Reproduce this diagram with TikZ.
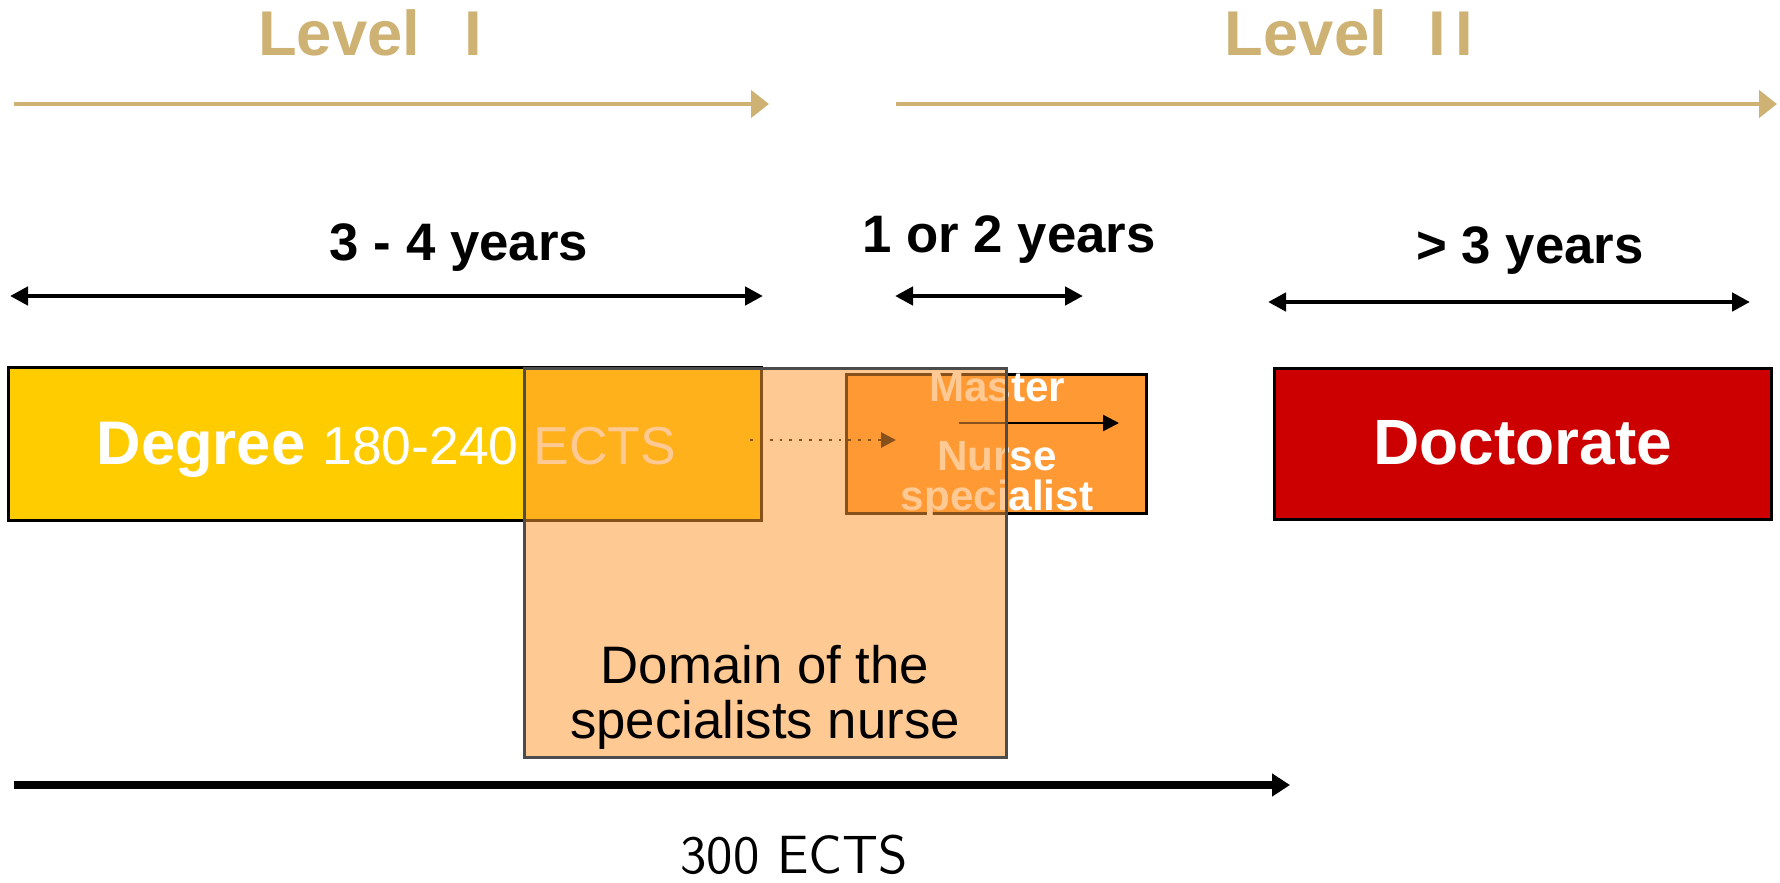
\documentclass[tikz,border=0pt]{standalone}
\usepackage{fontspec}
\setmainfont{Liberation Sans}
\usetikzlibrary{arrows.meta}
\definecolor{levelgold}{RGB}{205,178,116}
\definecolor{degreeyellow}{RGB}{255,204,0}
\definecolor{masterorange}{RGB}{255,153,51}
\definecolor{doctoratered}{RGB}{204,0,0}

\begin{document}
\begin{tikzpicture}[x=0.01cm, y=-0.01cm,
  levelarrow/.style={levelgold, line width=1.4pt, -{Triangle[length=0.18cm, width=0.27cm]}},
  yearspan/.style={line width=1.4pt, {Triangle[length=0.18cm, width=0.18cm]}-{Triangle[length=0.18cm, width=0.18cm]}},
  leveltext/.style={levelgold, anchor=base, inner sep=0pt, font=\fontsize{18}{20}\selectfont\bfseries},
  yearstext/.style={anchor=base, inner sep=0pt, font=\fontsize{15}{17}\selectfont\bfseries},
  stagebox/.style={draw, line width=0.85pt, inner sep=0pt},
  boxtext/.style={white, anchor=base, inner sep=0pt},
]
\useasboundingbox (0,0) rectangle (1780,882);

% levels
\node[leveltext] (levelI) at (370,56) {Level\hspace{0.44cm}I};
\node[leveltext] (levelII) at (1349,56) {Level\hspace{0.42cm}I\kern0.09cm I};
\coordinate (levelIstart) at (14,104);
\coordinate (levelIend) at (769,104);
\coordinate (levelIIstart) at (896,104);
\coordinate (levelIIend) at (1777,104);
\draw[levelarrow] (levelIstart) -- (levelIend);
\draw[levelarrow] (levelIIstart) -- (levelIIend);

% durations
\node[yearstext] (degreeyears) at (459,260) {3 - 4 years};
\node[yearstext] (masteryears) at (1009,252) {1 or 2 years};
\node[yearstext] (doctorateyears) at (1530,263) {> 3 years};
\coordinate (degreeleft) at (10,296);
\coordinate (degreeright) at (763,296);
\coordinate (masterleft) at (895,296);
\coordinate (masterright) at (1083,296);
\coordinate (doctorateleft) at (1268,302);
\coordinate (doctorateright) at (1750,302);
\draw[yearspan] (degreeleft) -- (degreeright);
\draw[yearspan] (masterleft) -- (masterright);
\draw[yearspan] (doctorateleft) -- (doctorateright);

% stages
\node[stagebox, fill=degreeyellow, minimum width=7.52cm, minimum height=1.52cm] (degree) at (385,444) {};
\node[boxtext, anchor=base west] (degreetext) at (96,464)
{\fontsize{17.5}{20}\selectfont\bfseries Degree \fontsize{15.2}{18}\selectfont\mdseries 180-240 ECTS};

\node[stagebox, fill=masterorange, minimum width=2.99cm, minimum height=1.38cm] (master) at (996.5,444) {};
\node[boxtext, font=\fontsize{12}{14}\selectfont\bfseries] (mastertitle) at (997,401) {Master};
\node[boxtext, font=\fontsize{12}{14}\selectfont\bfseries] (nurse) at (997,470) {Nurse};
\node[boxtext, font=\fontsize{12}{14}\selectfont\bfseries] (specialist) at (997,510) {specialist};
\coordinate (mastergo) at (959,423);
\coordinate (masterdone) at (1119,423);
\draw[line width=0.7pt, -{Triangle[length=0.16cm, width=0.16cm]}] (mastergo) -- (masterdone);
\coordinate (dotstart) at (750,440);
\coordinate (dotend) at (896,440);
\draw[dotted, line width=0.8pt, -{Triangle[length=0.15cm, width=0.15cm]}] (dotstart) -- (dotend);

\node[stagebox, fill=doctoratered, minimum width=4.96cm, minimum height=1.5cm] (doctorate) at (1523,444) {};
\node[boxtext, font=\fontsize{18.2}{20}\selectfont\bfseries] (doctoratetext) at (1523,464) {Doctorate};

% domain of the specialist nurse
\node[draw=black!70, line width=0.85pt, fill=masterorange, fill opacity=0.53, inner sep=0pt,
  minimum width=4.81cm, minimum height=3.88cm] (domain) at (765.5,563) {};
\node[anchor=base, align=center, inner sep=0pt, font=\fontsize{15}{15.6}\selectfont] (domaintext) at (765,738)
{Domain of the\\specialists nurse};

% total
\coordinate (totalstart) at (14,785);
\coordinate (totalend) at (1290,785);
\draw[line width=2pt, -{Triangle[length=0.18cm, width=0.22cm]}] (totalstart) -- (totalend);
\node[anchor=base, inner sep=0pt, font=\sffamily\fontsize{15.3}{17}\selectfont] (total) at (794,873) {300 ECTS};

\end{tikzpicture}
\end{document}
